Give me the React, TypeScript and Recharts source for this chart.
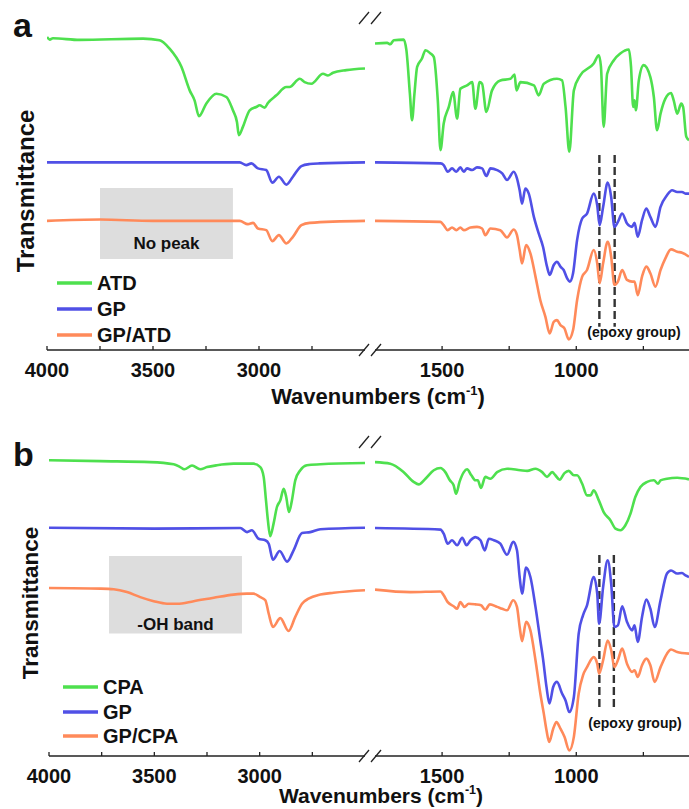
import React from 'react'
import {
  LineChart,
  Line,
  XAxis,
  YAxis,
  Legend,
  ReferenceArea,
  ReferenceLine
} from 'recharts'

const FONT = '"Liberation Sans", Arial, Helvetica, sans-serif'
const GREEN = '#4ee04e'
const BLUE = '#5050e6'
const ORANGE = '#ff8a5a'
const AXIS = '#222'
const PAD = 30

// [wavenumber, transmittance (offset, a.u.)]
// panel a, 4000-2500 cm-1
const atdLeft: [number, number][] = [
  [4000, 94.3], [3987, 93.5], [3972, 93.9], [3846, 93.4], [3547, 93.8], [3469, 93.3],
  [3422, 90.8], [3366, 85.3], [3327, 78.2], [3304, 75.2], [3283, 70.4], [3249, 74.2],
  [3201, 77.2], [3154, 76.2], [3123, 72.2], [3104, 68.7], [3095, 64.7], [3076, 67.2],
  [3044, 72.2], [3013, 73.2], [2997, 73.7], [2973, 73.0], [2958, 74.4], [2918, 76.7],
  [2871, 79.2], [2856, 79.2], [2808, 81.7], [2785, 80.7], [2753, 80.2], [2698, 83.2],
  [2675, 82.7], [2651, 83.5], [2588, 84.3], [2500, 84.8]
]
const gpLeftA: [number, number][] = [
  [4000, 56.5], [3600, 56.5], [3091, 56.5], [3060, 55.7], [3036, 56.2], [3005, 54.7],
  [2966, 54.2], [2937, 50.4], [2906, 52.2], [2871, 49.8], [2840, 52.2], [2800, 55.4],
  [2761, 56.0], [2714, 56.2], [2500, 56.5]
]
const gpAtdLeft: [number, number][] = [
  [4000, 38.9], [3750, 39.3], [3500, 38.9], [3091, 38.9], [3052, 37.9], [3028, 38.3],
  [3005, 36.6], [2966, 36.1], [2937, 32.8], [2906, 34.6], [2871, 32.1], [2840, 34.1],
  [2800, 37.6], [2761, 38.3], [2500, 38.9]
]
// panel a, 1750-580 cm-1
const atdRight: [number, number][] = [
  [1750, 92.3], [1705, 92.5], [1693, 92.1], [1680, 93.3], [1643, 93.5], [1633, 90.3],
  [1620, 77.2], [1612, 69.2], [1603, 77.2], [1593, 85.3], [1575, 87.8], [1562, 90.3],
  [1543, 89.3], [1531, 88.3], [1516, 75.2], [1506, 60.2], [1494, 68.2], [1475, 73.2],
  [1459, 77.7], [1444, 69.7], [1432, 78.7], [1407, 79.7], [1388, 80.7], [1376, 72.7],
  [1360, 80.7], [1351, 80.2], [1335, 71.7], [1314, 78.2], [1283, 81.2], [1245, 81.7],
  [1230, 83.0], [1223, 78.2], [1208, 80.7], [1158, 79.7], [1140, 76.7], [1121, 80.2],
  [1072, 81.7], [1053, 81.2], [1040, 73.2], [1026, 59.7], [1009, 78.2], [985, 82.7],
  [935, 86.3], [916, 88.8], [908, 85.3], [898, 67.2], [885, 83.2], [860, 87.3],
  [836, 89.3], [804, 90.5], [796, 85.3], [788, 73.2], [783, 75.2], [778, 72.2],
  [767, 81.2], [749, 85.8], [724, 82.2], [711, 76.2], [699, 66.2], [686, 71.2],
  [668, 75.7], [647, 77.4], [637, 75.2], [624, 71.2], [609, 74.2], [602, 73.2],
  [590, 64.2], [580, 63.2]
]
const gpRightA: [number, number][] = [
  [1750, 56.5], [1506, 56.2], [1494, 55.7], [1479, 53.7], [1463, 54.7], [1447, 53.7],
  [1432, 55.0], [1419, 53.7], [1407, 54.7], [1388, 54.2], [1370, 55.0], [1351, 54.7],
  [1335, 52.4], [1320, 54.7], [1295, 54.2], [1276, 53.2], [1258, 51.2], [1233, 53.7],
  [1221, 51.7], [1211, 48.1], [1202, 44.1], [1190, 48.6], [1177, 47.1], [1158, 40.1],
  [1140, 35.1], [1124, 31.1], [1109, 25.1], [1099, 22.6], [1084, 25.6], [1072, 26.6],
  [1059, 25.1], [1047, 24.1], [1034, 21.6], [1024, 20.6], [1012, 23.1], [997, 33.1],
  [978, 39.6], [960, 41.1], [935, 47.1], [922, 43.6], [913, 37.6], [900, 43.1],
  [883, 50.4], [870, 46.1], [858, 37.1], [845, 38.6], [829, 41.1], [811, 38.1],
  [792, 37.1], [783, 38.3], [771, 34.1], [755, 39.1], [739, 42.6], [724, 40.1],
  [705, 37.1], [686, 43.1], [662, 46.6], [643, 48.1], [624, 47.6], [606, 47.6],
  [593, 47.1], [580, 47.1]
]
const gpAtdRight: [number, number][] = [
  [1750, 38.9], [1506, 38.6], [1494, 37.6], [1479, 36.1], [1463, 36.9], [1447, 36.1],
  [1432, 36.9], [1419, 36.1], [1394, 36.9], [1370, 37.1], [1351, 36.6], [1339, 34.6],
  [1320, 36.6], [1283, 36.1], [1258, 33.9], [1233, 36.3], [1221, 34.6], [1211, 30.1],
  [1202, 26.1], [1187, 31.6], [1171, 29.1], [1152, 22.1], [1134, 15.0], [1115, 10.0],
  [1099, 5.0], [1084, 8.5], [1072, 9.0], [1059, 7.5], [1044, 6.5], [1028, 3.2],
  [1012, 6.0], [997, 15.0], [978, 22.1], [960, 24.1], [935, 30.1], [922, 26.1],
  [913, 20.1], [900, 26.1], [883, 32.6], [870, 28.1], [858, 19.6], [845, 20.6],
  [829, 24.1], [811, 21.1], [792, 20.6], [783, 20.6], [771, 16.5], [755, 22.1],
  [739, 25.1], [724, 23.1], [705, 19.1], [686, 24.1], [668, 27.6], [647, 30.3],
  [624, 29.6], [606, 29.3], [580, 28.1]
]
// panel b, 4000-2500 cm-1
const cpaLeft: [number, number][] = [
  [4000, 94.2], [3756, 93.9], [3519, 93.6], [3408, 92.9], [3377, 92.0], [3358, 91.3],
  [3321, 92.5], [3282, 91.3], [3250, 92.0], [3203, 92.6], [3124, 93.1], [3029, 93.1],
  [2997, 92.0], [2981, 88.9], [2970, 81.4], [2961, 75.1], [2950, 70.0], [2934, 74.0],
  [2918, 79.3], [2902, 81.4], [2886, 85.1], [2874, 82.5], [2861, 77.7], [2847, 81.4],
  [2831, 87.8], [2807, 91.0], [2776, 92.6], [2712, 92.9], [2500, 93.3]
]
const gpLeftB: [number, number][] = [
  [4000, 72.7], [3500, 72.4], [3092, 72.6], [3060, 71.3], [3037, 71.9], [3005, 69.2],
  [2973, 68.7], [2957, 67.6], [2937, 62.5], [2905, 65.3], [2870, 61.9], [2839, 65.5],
  [2799, 71.0], [2760, 71.3], [2712, 72.2], [2500, 72.7]
]
const gpCpaLeft: [number, number][] = [
  [4000, 53.5], [3756, 53.3], [3693, 53.1], [3630, 52.2], [3567, 50.6], [3503, 49.3],
  [3440, 48.5], [3392, 48.5], [3313, 49.3], [3218, 50.4], [3124, 51.4], [3060, 51.7],
  [3029, 51.7], [2997, 50.6], [2973, 49.6], [2957, 45.3], [2937, 41.1], [2902, 43.9],
  [2863, 39.8], [2831, 44.3], [2799, 48.5], [2768, 50.1], [2712, 51.4], [2649, 52.0],
  [2500, 52.8]
]
// panel b, 1750-580 cm-1
const cpaRight: [number, number][] = [
  [1750, 93.6], [1693, 93.1], [1643, 90.4], [1606, 87.3], [1587, 86.5], [1562, 88.3],
  [1531, 91.0], [1506, 91.7], [1488, 90.4], [1471, 87.8], [1457, 86.2], [1448, 83.5],
  [1435, 87.3], [1419, 90.4], [1407, 91.3], [1391, 89.4], [1376, 87.8], [1367, 87.8],
  [1355, 85.4], [1339, 88.9], [1320, 88.3], [1295, 90.4], [1258, 91.5], [1208, 91.0],
  [1183, 90.8], [1152, 91.5], [1127, 90.4], [1109, 88.9], [1090, 90.4], [1078, 89.4],
  [1062, 88.0], [1044, 90.1], [1028, 90.8], [1009, 89.4], [997, 89.4], [978, 86.7],
  [960, 83.0], [947, 83.0], [935, 84.6], [916, 81.4], [898, 77.7], [873, 75.1],
  [854, 72.4], [836, 71.9], [817, 73.5], [798, 77.2], [780, 82.5], [761, 85.7],
  [736, 87.3], [711, 87.8], [695, 86.7], [686, 87.8], [662, 88.3], [624, 88.6],
  [580, 88.1]
]
const gpRightB: [number, number][] = [
  [1750, 72.6], [1506, 72.1], [1494, 70.8], [1479, 67.6], [1463, 68.7], [1444, 67.1],
  [1425, 69.5], [1409, 67.1], [1394, 68.7], [1376, 69.7], [1357, 68.7], [1341, 65.5],
  [1326, 69.2], [1307, 68.7], [1283, 67.6], [1258, 64.1], [1235, 68.2], [1221, 65.5],
  [1211, 57.0], [1202, 51.7], [1187, 60.0], [1171, 57.0], [1152, 47.5], [1134, 36.8],
  [1124, 31.0], [1111, 22.0], [1100, 16.7], [1086, 22.0], [1072, 23.6], [1053, 19.9],
  [1040, 17.7], [1026, 14.0], [1009, 18.8], [991, 39.0], [975, 44.8], [960, 48.0],
  [935, 57.0], [922, 51.7], [915, 42.1], [900, 53.8], [883, 62.3], [870, 54.9],
  [858, 41.1], [845, 41.6], [829, 47.7], [811, 42.7], [792, 40.0], [783, 41.6],
  [771, 36.3], [755, 44.3], [739, 49.8], [724, 46.9], [708, 41.1], [686, 49.6],
  [662, 58.1], [647, 59.1], [624, 58.1], [606, 58.3], [593, 57.5], [580, 57.0]
]
const gpCpaRight: [number, number][] = [
  [1750, 53.0], [1618, 52.2], [1506, 52.4], [1494, 51.2], [1479, 49.0], [1457, 47.7],
  [1444, 46.9], [1432, 49.0], [1417, 47.5], [1401, 48.5], [1376, 48.3], [1355, 48.0],
  [1339, 46.6], [1322, 48.3], [1295, 47.5], [1276, 46.9], [1258, 46.4], [1235, 49.6],
  [1221, 47.5], [1211, 41.1], [1202, 36.6], [1187, 42.7], [1171, 40.0], [1152, 30.5],
  [1134, 19.9], [1121, 13.5], [1111, 8.2], [1101, 4.5], [1086, 8.7], [1074, 10.8],
  [1059, 8.7], [1044, 6.1], [1026, 1.8], [1009, 6.1], [991, 19.9], [975, 25.7],
  [960, 28.3], [935, 31.5], [922, 29.4], [915, 26.2], [900, 30.5], [883, 36.8],
  [870, 33.7], [858, 28.3], [845, 30.5], [829, 34.2], [811, 29.4], [792, 26.8],
  [783, 27.3], [771, 25.2], [755, 28.9], [739, 31.0], [724, 28.9], [708, 23.6],
  [686, 28.3], [662, 32.6], [647, 33.9], [624, 33.1], [606, 32.8], [580, 32.6]
]

const leftTicks = [4000, 3750, 3500, 3250, 3000, 2750]
const rightTicks = [1500, 1250, 1000, 750]
const yTicksA = [2.2, 13.2, 24.1, 34.9, 45.7, 56.6, 67.4, 78.2, 89.0]
const yTicksB = [7.1, 14.3, 21.4, 28.5, 35.7, 42.8, 49.9, 57.1, 64.2, 71.3, 78.5, 85.6, 92.7]
const epoxyA = [914, 857]
const epoxyB = [914, 860]

const toPts = (arr: [number, number][]) => arr.map(([wn, t]) => ({ wn, t }))

const BottomTick = (props: any) => {
  const { x, y, payload } = props
  const v = payload.value
  return (
    <g>
      <line x1={x} y1={y} x2={x} y2={y - 4} stroke={AXIS} strokeWidth={1.3} />
      {v % 500 === 0 && (
        <text x={x} y={y + 27} textAnchor="middle" fontFamily={FONT} fontWeight={700} fontSize={20} fill="#111">
          {v}
        </text>
      )}
    </g>
  )
}

const TopTick = (props: any) => {
  const { x, y } = props
  return <line x1={x} y1={y} x2={x} y2={y + 4} stroke={AXIS} strokeWidth={1.3} />
}

const LeftTick = (props: any) => {
  const { x, y } = props
  return <line x1={x} y1={y} x2={x + 4} y2={y} stroke={AXIS} strokeWidth={1.3} />
}

const LegendBox = ({ payload, rowH }: any) => (
  <div style={{ fontFamily: FONT, fontWeight: 700, fontSize: 20, color: '#111' }}>
    {(payload || []).map((e: any) => (
      <div key={e.value} style={{ display: 'flex', alignItems: 'center', height: rowH }}>
        <svg width={35} height={6}>
          <line x1={0} y1={3} x2={35} y2={3} stroke={e.color} strokeWidth={3.5} />
        </svg>
        <span style={{ marginLeft: 5, lineHeight: '20px' }}>{e.value}</span>
      </div>
    ))}
  </div>
)

interface SegmentProps {
  width: number
  height: number
  domain: [number, number]
  ticks: number[]
  yTicks?: number[]
  series: { name: string; data: [number, number][]; color: string }[]
  children?: React.ReactNode
  legend?: { left: number; top: number; rowH: number }
}

// one side of the broken axis; PAD keeps the edge tick labels from being cut
function Segment({ width, height, domain, ticks, yTicks, series, children, legend }: SegmentProps) {
  return (
    <LineChart width={width + 2 * PAD} height={height + 40} margin={{ top: 0, right: PAD, bottom: 0, left: PAD }}>
      <XAxis
        dataKey="wn"
        type="number"
        domain={domain}
        reversed
        allowDataOverflow
        ticks={ticks}
        interval={0}
        height={40}
        tickSize={0}
        tickMargin={0}
        tick={<BottomTick />}
        axisLine={{ stroke: AXIS, strokeWidth: 1.3 }}
      />
      <XAxis
        xAxisId="top"
        orientation="top"
        dataKey="wn"
        type="number"
        domain={domain}
        reversed
        allowDataOverflow
        ticks={ticks}
        interval={0}
        height={0}
        tickSize={0}
        tickMargin={0}
        tick={<TopTick />}
        axisLine={{ stroke: AXIS, strokeWidth: 1.3 }}
      />
      {yTicks ? (
        <YAxis
          type="number"
          domain={[0, 100]}
          allowDataOverflow
          ticks={yTicks}
          interval={0}
          width={0}
          tickSize={0}
          tickMargin={0}
          tick={<LeftTick />}
          axisLine={{ stroke: AXIS, strokeWidth: 1.3 }}
        />
      ) : (
        <YAxis type="number" domain={[0, 100]} allowDataOverflow hide />
      )}
      {children}
      {series.map((s) => (
        <Line
          key={s.name}
          name={s.name}
          data={toPts(s.data)}
          dataKey="t"
          type="monotone"
          stroke={s.color}
          strokeWidth={2.6}
          dot={false}
          activeDot={false}
          isAnimationActive={false}
        />
      ))}
      {legend && (
        <Legend
          layout="vertical"
          align="center"
          verticalAlign="middle"
          wrapperStyle={{ left: PAD + legend.left, top: legend.top, width: 'auto', height: 'auto' }}
          content={(p: any) => <LegendBox payload={p.payload} rowH={legend.rowH} />}
        />
      )}
    </LineChart>
  )
}

const Slashes = ({ yc }: { yc: number }) => (
  <g stroke={AXIS} strokeWidth={1.3}>
    <line x1={359} y1={yc + 6} x2={369} y2={yc - 6} />
    <line x1={371} y1={yc + 6} x2={381} y2={yc - 6} />
  </g>
)

const boxLabel = (text: string, offset: number) => ({
  value: text,
  position: 'insideBottom' as const,
  offset,
  fill: '#111',
  fontSize: 17,
  fontWeight: 700,
  fontFamily: FONT
})

export default function App() {
  const pos = (left: number, top: number): React.CSSProperties => ({ position: 'absolute', left: left - PAD, top })
  return (
    <div style={{ position: 'absolute', left: 0, top: 0, width: 689, height: 809, background: '#fff', overflow: 'hidden' }}>
      {/* panel a */}
      <div style={pos(47, 18)}>
        <Segment
          width={318}
          height={332}
          domain={[2500, 4000]}
          ticks={leftTicks}
          yTicks={yTicksA}
          series={[
            { name: 'ATD', data: atdLeft, color: GREEN },
            { name: 'GP', data: gpLeftA, color: BLUE },
            { name: 'GP/ATD', data: gpAtdLeft, color: ORANGE }
          ]}
          legend={{ left: 10, top: 252, rowH: 26 }}
        >
          <ReferenceArea x1={3750} x2={3123} y1={27.4} y2={48.8} fill="#dddddd" fillOpacity={1} stroke="none" label={boxLabel('No peak', 10)} />
        </Segment>
      </div>
      <div style={pos(375, 18)}>
        <Segment
          width={314}
          height={332}
          domain={[580, 1750]}
          ticks={rightTicks}
          series={[
            { name: 'ATD', data: atdRight, color: GREEN },
            { name: 'GP', data: gpRightA, color: BLUE },
            { name: 'GP/ATD', data: gpAtdRight, color: ORANGE }
          ]}
        >
          {epoxyA.map((w) => (
            <ReferenceLine key={w} segment={[{ x: w, y: 58.7 }, { x: w, y: 7 }]} stroke="#333" strokeWidth={2.4} strokeDasharray="8 4" />
          ))}
        </Segment>
      </div>

      {/* panel b */}
      <div style={pos(49, 442)}>
        <Segment
          width={316}
          height={314}
          domain={[2500, 4000]}
          ticks={leftTicks}
          yTicks={yTicksB}
          series={[
            { name: 'CPA', data: cpaLeft, color: GREEN },
            { name: 'GP', data: gpLeftB, color: BLUE },
            { name: 'GP/CPA', data: gpCpaLeft, color: ORANGE }
          ]}
          legend={{ left: 14, top: 233, rowH: 24.5 }}
        >
          <ReferenceArea x1={3715} x2={3084} y1={39.0} y2={63.7} fill="#dddddd" fillOpacity={1} stroke="none" label={boxLabel('-OH band', 4)} />
        </Segment>
      </div>
      <div style={pos(375, 442)}>
        <Segment
          width={314}
          height={314}
          domain={[580, 1750]}
          ticks={rightTicks}
          series={[
            { name: 'CPA', data: cpaRight, color: GREEN },
            { name: 'GP', data: gpRightB, color: BLUE },
            { name: 'GP/CPA', data: gpCpaRight, color: ORANGE }
          ]}
        >
          {epoxyB.map((w) => (
            <ReferenceLine key={w} segment={[{ x: w, y: 64.0 }, { x: w, y: 15.2 }]} stroke="#333" strokeWidth={2.4} strokeDasharray="8 4" />
          ))}
        </Segment>
      </div>

      {/* titles and decorations */}
      <svg width={689} height={809} style={{ position: 'absolute', left: 0, top: 0, pointerEvents: 'none' }}>
        <g fontFamily={FONT} fontWeight={700} fill="#111">
          <text x={13} y={37} fontSize={34}>a</text>
          <text x={13} y={466} fontSize={34}>b</text>
          <text x={34} y={191} fontSize={24} textAnchor="middle" transform="rotate(-90 34 191)">Transmittance</text>
          <text x={38} y={603} fontSize={22.5} textAnchor="middle" transform="rotate(-90 38 603)">Transmittance</text>
          <text x={378} y={404} fontSize={22} textAnchor="middle">
            Wavenumbers (cm<tspan fontSize={13} dy={-9}>-1</tspan><tspan dy={9}>)</tspan>
          </text>
          <text x={381} y={803} fontSize={21} textAnchor="middle">
            Wavenumbers (cm<tspan fontSize={12.5} dy={-9}>-1</tspan><tspan dy={9}>)</tspan>
          </text>
          <text x={634} y={337} fontSize={14} textAnchor="middle">(epoxy group)</text>
          <text x={635} y={728} fontSize={14} textAnchor="middle">(epoxy group)</text>
        </g>
        <Slashes yc={18} />
        <Slashes yc={350} />
        <Slashes yc={442} />
        <Slashes yc={756} />
      </svg>
    </div>
  )
}
